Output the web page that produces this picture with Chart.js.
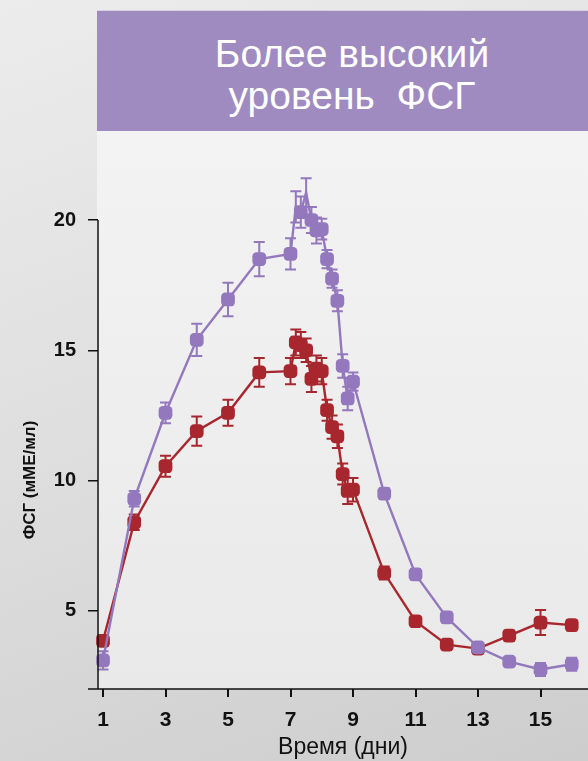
<!DOCTYPE html>
<html><head><meta charset="utf-8">
<script src="https://cdn.jsdelivr.net/npm/chart.js@4/dist/chart.umd.min.js"></script>
<style>
html,body{margin:0;padding:0;width:588px;height:761px;overflow:hidden;}
body{background:linear-gradient(160deg,#ececec 0%,#dedede 50%,#cdcdcd 100%);position:relative;font-family:"Liberation Sans",Arial,sans-serif;}
#panel{position:absolute;left:97px;top:131px;width:491px;height:558px;background:linear-gradient(180deg,#f3f3f3 0%,#e9e9e9 100%);}
#banner{position:absolute;left:97px;top:10px;width:491px;height:121px;background:#a08bc0;border-top:1px solid #d6d0e0;box-sizing:border-box;}
#banner div{position:absolute;left:0;width:510px;text-align:center;color:#fff;font-size:39px;line-height:42px;top:22px;}
#c{position:absolute;left:0;top:0;}
</style></head>
<body>
<div id="panel"></div>
<div id="banner"><div>Более высокий<br>уровень&nbsp; ФСГ</div></div>
<canvas id="c" width="588" height="761"></canvas>
<script>
const days = [1,2,3,4,5,6,7,7.17,7.33,7.5,7.67,7.83,8,8.17,8.33,8.5,8.67,8.83,9,10,11,12,13,14,15,16];
const highFSH = [3.1,9.3,12.6,15.4,16.95,18.5,18.7,20.5,20.3,21.05,20.0,19.6,19.65,18.5,17.75,16.9,14.4,13.15,13.8,9.5,6.4,4.75,3.6,3.05,2.75,2.95];
const highErr = [0.35,0.3,0.4,0.62,0.64,0.66,0.6,0.6,0.6,0.55,0.5,0.5,0.4,0.35,0.35,0.4,0.45,0.45,0.35,0.2,0.2,0.2,0.15,0.15,0.25,0.25];
const lowFSH = [3.85,8.4,10.55,11.9,12.6,14.15,14.2,15.3,15.2,15.0,13.9,14.3,14.2,12.7,12.05,11.7,10.25,9.6,9.65,6.45,4.6,3.7,3.55,4.05,4.55,4.45];
const lowErr = [0.2,0.3,0.4,0.56,0.5,0.55,0.5,0.5,0.5,0.45,0.5,0.5,0.5,0.4,0.45,0.45,0.4,0.5,0.45,0.25,0.15,0.15,0.15,0.2,0.48,0.2];
const xTicks = [1,3,5,7,9,11,13,15];
const yTicks = [5,10,15,20];
const xTitle = 'Время (дни)';
const yTitle = 'ФСГ (мМЕ/мл)';

const purple = '#9378bd';
const red = '#a8262d';
const FONT = '"Liberation Sans", Arial, sans-serif';

function mk(vals, errs, color){
  return {
    data: days.map((d,i)=>({x:d,y:vals[i]})),
    errs: errs,
    borderColor: color, backgroundColor: color,
    borderWidth: 2.4, pointStyle: 'rectRounded', pointRadius: 8, pointHoverRadius: 8,
    pointBorderWidth: 0, clip: false, tension: 0
  };
}

const errPlugin = {
  id:'err',
  beforeDatasetsDraw(chart){
    const ctx = chart.ctx, xs = chart.scales.x, ys = chart.scales.y;
    chart.data.datasets.forEach(ds=>{
      ctx.save();
      ctx.strokeStyle = ds.borderColor; ctx.lineWidth = 2;
      ds.data.forEach((p,i)=>{
        const e = ds.errs[i];
        const px = xs.getPixelForValue(p.x);
        const y1 = ys.getPixelForValue(p.y+e), y2 = ys.getPixelForValue(p.y-e);
        ctx.beginPath();
        ctx.moveTo(px,y1); ctx.lineTo(px,y2);
        ctx.moveTo(px-5.5,y1); ctx.lineTo(px+5.5,y1);
        ctx.moveTo(px-5.5,y2); ctx.lineTo(px+5.5,y2);
        ctx.stroke();
      });
      ctx.restore();
    });
  },
  afterDraw(chart){
    const ctx = chart.ctx, a = chart.chartArea;
    ctx.save();
    ctx.strokeStyle = '#111'; ctx.lineWidth = 1.5;
    ctx.beginPath();
    ctx.moveTo(a.left-10, a.bottom); ctx.lineTo(a.right, a.bottom);
    ctx.moveTo(a.left, a.top); ctx.lineTo(a.left, a.bottom);
    ctx.stroke();
    ctx.translate(30, 480);
    ctx.rotate(-Math.PI/2);
    ctx.fillStyle = '#111';
    ctx.font = 'bold 17px ' + FONT;
    ctx.textAlign = 'center'; ctx.textBaseline = 'middle';
    ctx.fillText(yTitle, 0, 0);
    ctx.restore();
  }
};

new Chart(document.getElementById('c'), {
  type: 'line',
  data: { datasets: [ mk(highFSH, highErr, purple), mk(lowFSH, lowErr, red) ] },
  options: {
    responsive: false, animation: false,
    layout: { autoPadding: false, padding: { top: 220, left: 0, right: 0, bottom: 0 } },
    plugins: { legend: { display: false }, tooltip: { enabled: false } },
    scales: {
      x: {
        type: 'linear', min: 0.84, max: 16.52,
        afterBuildTicks: s => { s.ticks = xTicks.map(v=>({value:v})); },
        afterFit: s => { s.height = 72; s.paddingLeft = 0; s.paddingRight = 0; },
        grid: { drawOnChartArea: false, drawTicks: true, tickLength: 8, color: '#111', lineWidth: 2 },
        border: { display: false },
        ticks: { color: '#111', padding: 11, maxRotation: 0, font: { family: FONT, size: 21, weight: 'bold' }, callback: v => v },
        title: { display: true, text: xTitle, color: '#111', padding: { top: 0, bottom: 0 }, font: { family: FONT, size: 23 } }
      },
      y: {
        type: 'linear', min: 2, max: 20,
        afterBuildTicks: s => { s.ticks = yTicks.map(v=>({value:v})); },
        afterFit: s => { s.width = 98; s.paddingTop = 0; s.paddingBottom = 0; },
        grid: { drawOnChartArea: false, drawTicks: true, tickLength: 10, color: '#111', lineWidth: 1.5 },
        border: { display: false },
        ticks: { color: '#111', padding: 12, font: { family: FONT, size: 20, weight: 'bold' }, callback: v => v }
      }
    }
  },
  plugins: [errPlugin]
});
</script>
</body></html>
